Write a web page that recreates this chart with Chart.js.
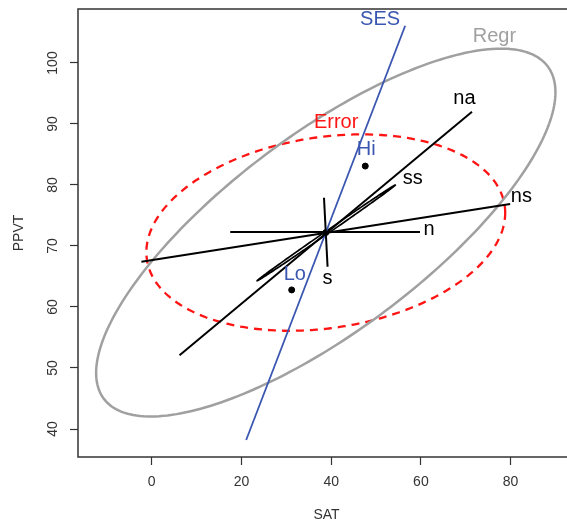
<!DOCTYPE html>
<html>
<head>
<meta charset="utf-8">
<script src="https://cdn.jsdelivr.net/npm/chart.js@4.4.1/dist/chart.umd.min.js"></script>
<style>
  html, body { margin: 0; padding: 0; overflow: hidden; background: #fff; }
  #wrap { width: 580px; height: 522px; }
</style>
</head>
<body>
<div id="wrap"><canvas id="he" width="580" height="522"></canvas></div>
<script>
// grand means of SAT / PPVT
const meanSAT = 38.8;
const meanPPVT = 72.2;

// axis ticks
const satTicks = [0, 20, 40, 60, 80];
const ppvtTicks = [40, 50, 60, 70, 80, 90, 100];

// one-df terms, drawn as segments [SAT, PPVT]
const termNames = ['n', 's', 'ns', 'na'];
const termStart = [[17.5, 72.3], [38.4, 77.9], [-2.3, 67.4], [6.2, 52.1]];
const termEnd = [[59.8, 72.3], [39.2, 66.6], [79.9, 76.9], [71.4, 92.0]];

// SES contrast
const sesStart = [21.05, 38.2];
const sesEnd = [56.5, 106.1];

// group means
const groupNames = ['Hi', 'Lo'];
const groupSAT = [47.6, 31.2];
const groupPPVT = [83.1, 62.8];

// ellipses: centre, half widths along SAT / PPVT, correlation
const ellipseNames = ['Error', 'Regr', 'ss'];
const ellipseCenter = [[38.8, 72.2], [38.8, 72.2], [38.9, 72.15]];
const ellipseHalfX = [40, 51.2, 15.4];
const ellipseHalfY = [16.1, 30.15, 7.85];
const ellipseRho = [0.2, 0.763, 0.9993];

// text labels
const labelText = ['SES', 'Regr', 'Error', 'Hi', 'Lo', 'na', 'ss', 'ns', 'n', 's'];
const labelSAT = [50.9, 76.4, 41.1, 47.8, 31.9, 69.7, 58.2, 82.4, 61.8, 39.2];
const labelPPVT = [107.2, 104.4, 90.3, 85.8, 65.25, 94.1, 81.1, 78.1, 72.7, 64.6];

const FONT = '"Liberation Sans", Arial, sans-serif';
const BLUE = '#3a56b0';
const RED = '#ff1414';
const GRAY = '#a0a0a0';
const INK = '#000';
const AXIS = '#333';

const labelColor = { SES: BLUE, Hi: BLUE, Lo: BLUE, Regr: GRAY, Error: RED };
const ellipseStyle = {
    Error: { color: RED, width: 2.3, dash: [8, 6] },
    Regr: { color: GRAY, width: 2.5, dash: [] },
    ss: { color: INK, width: 1.7, dash: [] },
};

const ellipsePlugin = {
    id: 'ellipses',
    beforeDatasetsDraw(chart) {
        const { ctx, chartArea, scales: { x, y } } = chart;
        ctx.save();
        ctx.beginPath();
        ctx.rect(chartArea.left, chartArea.top, chartArea.width, chartArea.height);
        ctx.clip();
        ellipseNames.forEach((name, i) => {
            const st = ellipseStyle[name];
            const [cx, cy] = ellipseCenter[i];
            const sx = ellipseHalfX[i], sy = ellipseHalfY[i], r = ellipseRho[i];
            const q = Math.sqrt(1 - r * r);
            ctx.beginPath();
            for (let k = 0; k <= 240; k++) {
                const t = k / 240 * 2 * Math.PI;
                const px = x.getPixelForValue(cx + sx * Math.cos(t));
                const py = y.getPixelForValue(cy + sy * (r * Math.cos(t) + q * Math.sin(t)));
                if (k === 0) ctx.moveTo(px, py); else ctx.lineTo(px, py);
            }
            ctx.closePath();
            ctx.strokeStyle = st.color;
            ctx.lineWidth = st.width;
            ctx.setLineDash(st.dash);
            ctx.stroke();
        });
        ctx.restore();
    }
};

const annotatePlugin = {
    id: 'annotate',
    afterDraw(chart) {
        const { ctx, chartArea, scales: { x, y } } = chart;
        ctx.save();
        // plot labels
        ctx.font = `20px ${FONT}`;
        ctx.textAlign = 'center';
        ctx.textBaseline = 'middle';
        labelText.forEach((txt, i) => {
            ctx.fillStyle = labelColor[txt] || INK;
            ctx.fillText(txt, x.getPixelForValue(labelSAT[i]), y.getPixelForValue(labelPPVT[i]));
        });
        // rotated PPVT tick labels, R style
        ctx.font = `14px ${FONT}`;
        ctx.fillStyle = AXIS;
        ppvtTicks.forEach(v => {
            ctx.save();
            ctx.translate(53, y.getPixelForValue(v));
            ctx.rotate(-Math.PI / 2);
            ctx.fillText(String(v), 0, 0);
            ctx.restore();
        });
        // box
        ctx.strokeStyle = AXIS;
        ctx.lineWidth = 1.5;
        ctx.strokeRect(chartArea.left, chartArea.top, chartArea.width, chartArea.height);
        ctx.restore();
    }
};

const termSets = termNames.map((name, i) => ({
    label: name,
    data: [{ x: termStart[i][0], y: termStart[i][1] }, { x: termEnd[i][0], y: termEnd[i][1] }],
    showLine: true,
    borderColor: INK,
    borderWidth: 2,
    pointRadius: 0,
}));

const sesSet = {
    label: 'SES',
    data: [{ x: sesStart[0], y: sesStart[1] }, { x: sesEnd[0], y: sesEnd[1] }],
    showLine: true,
    borderColor: BLUE,
    borderWidth: 1.8,
    pointRadius: 0,
};

const meanSet = {
    label: 'means',
    data: groupNames.map((g, i) => ({ x: groupSAT[i], y: groupPPVT[i] })).concat([{ x: meanSAT, y: meanPPVT }]),
    showLine: false,
    pointRadius: 3,
    pointBackgroundColor: INK,
    pointBorderColor: INK,
};

const grid = { drawOnChartArea: false, drawTicks: true, tickLength: 8, tickColor: AXIS, tickWidth: 1.2 };

new Chart(document.getElementById('he'), {
    type: 'scatter',
    data: { datasets: [...termSets, sesSet, meanSet] },
    options: {
        responsive: false,
        devicePixelRatio: 1,
        animation: false,
        layout: { padding: { top: 9, right: 2, left: 0, bottom: 0 } },
        plugins: { legend: { display: false }, tooltip: { enabled: false } },
        scales: {
            x: {
                type: 'linear',
                min: -16.44,
                max: 94.36,
                afterBuildTicks: s => { s.ticks = satTicks.map(v => ({ value: v })); },
                afterFit: s => { s.height = 65; },
                grid,
                border: { display: false },
                ticks: { color: AXIS, font: { family: FONT, size: 14 }, padding: 9, maxRotation: 0, autoSkip: false },
                title: { display: true, text: 'SAT', color: AXIS, font: { family: FONT, size: 14, lineHeight: 1 }, padding: { top: 0, bottom: 0 } },
            },
            y: {
                type: 'linear',
                min: 35.41,
                max: 108.85,
                afterBuildTicks: s => { s.ticks = ppvtTicks.map(v => ({ value: v })); },
                afterFit: s => { s.width = 78; },
                grid,
                border: { display: false },
                ticks: { display: false },
                title: { display: true, text: 'PPVT', color: AXIS, font: { family: FONT, size: 14, lineHeight: 1 }, padding: { top: 12, bottom: 0 } },
            },
        },
    },
    plugins: [ellipsePlugin, annotatePlugin],
});
</script>
</body>
</html>
